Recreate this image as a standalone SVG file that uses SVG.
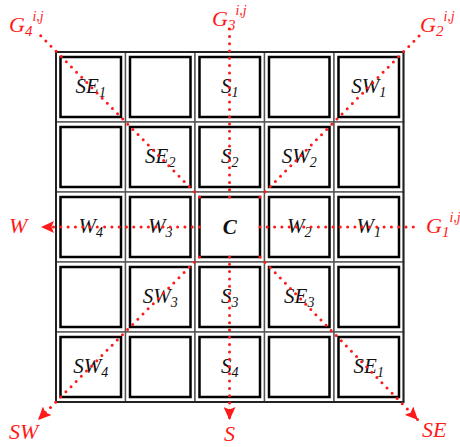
<svg xmlns="http://www.w3.org/2000/svg" width="460" height="447" viewBox="0 0 460 447">
<defs>
<style>
.cell{fill:#fff;stroke:#555;stroke-width:1.4}
.inner{fill:none;stroke:#000;stroke-width:2.5}
.lbl{font-family:"Liberation Serif","Times New Roman",serif;font-style:italic;font-size:21px;fill:#111;text-anchor:middle}
.sub{font-size:14px}
.red{font-family:"Liberation Serif","Times New Roman",serif;font-style:italic;font-size:22px;fill:#ff1a1a}
.rsub{font-size:15px}
.rsup{font-size:14px}
.dot{fill:none;stroke:#ff1a1a;stroke-width:3;stroke-linecap:round;stroke-dasharray:0 7.3}
</style>
<marker id="ah" markerUnits="userSpaceOnUse" markerWidth="14" markerHeight="12" refX="13" refY="6" orient="auto">
<path d="M0,0 L13,6 L0,12 L2.5,6 Z" fill="#ff1a1a"/>
</marker>
</defs>
<rect x="0" y="0" width="460" height="447" fill="#fff"/>
<g id="grid">
<g id="cell-0-0"><rect class="cell" x="56" y="52" width="69.5" height="70"/><rect class="inner" x="60.5" y="57" width="60.5" height="60"/><text class="lbl" x="90.75" y="93">SE<tspan class="sub" dy="4">1</tspan></text></g>
<g id="cell-1-0"><rect class="cell" x="125.5" y="52" width="69.5" height="70"/><rect class="inner" x="130" y="57" width="60.5" height="60"/></g>
<g id="cell-2-0"><rect class="cell" x="195" y="52" width="69.5" height="70"/><rect class="inner" x="199.5" y="57" width="60.5" height="60"/><text class="lbl" x="229.75" y="93">S<tspan class="sub" dy="4">1</tspan></text></g>
<g id="cell-3-0"><rect class="cell" x="264.5" y="52" width="69.5" height="70"/><rect class="inner" x="269" y="57" width="60.5" height="60"/></g>
<g id="cell-4-0"><rect class="cell" x="334" y="52" width="69.5" height="70"/><rect class="inner" x="338.5" y="57" width="60.5" height="60"/><text class="lbl" x="368.75" y="93">SW<tspan class="sub" dy="4">1</tspan></text></g>

<g id="cell-0-1"><rect class="cell" x="56" y="122" width="69.5" height="70"/><rect class="inner" x="60.5" y="127" width="60.5" height="60"/></g>
<g id="cell-1-1"><rect class="cell" x="125.5" y="122" width="69.5" height="70"/><rect class="inner" x="130" y="127" width="60.5" height="60"/><text class="lbl" x="160.25" y="163">SE<tspan class="sub" dy="4">2</tspan></text></g>
<g id="cell-2-1"><rect class="cell" x="195" y="122" width="69.5" height="70"/><rect class="inner" x="199.5" y="127" width="60.5" height="60"/><text class="lbl" x="229.75" y="163">S<tspan class="sub" dy="4">2</tspan></text></g>
<g id="cell-3-1"><rect class="cell" x="264.5" y="122" width="69.5" height="70"/><rect class="inner" x="269" y="127" width="60.5" height="60"/><text class="lbl" x="299.25" y="163">SW<tspan class="sub" dy="4">2</tspan></text></g>
<g id="cell-4-1"><rect class="cell" x="334" y="122" width="69.5" height="70"/><rect class="inner" x="338.5" y="127" width="60.5" height="60"/></g>

<g id="cell-0-2"><rect class="cell" x="56" y="192" width="69.5" height="70"/><rect class="inner" x="60.5" y="197" width="60.5" height="60"/><text class="lbl" x="90.75" y="233">W<tspan class="sub" dy="4">4</tspan></text></g>
<g id="cell-1-2"><rect class="cell" x="125.5" y="192" width="69.5" height="70"/><rect class="inner" x="130" y="197" width="60.5" height="60"/><text class="lbl" x="160.25" y="233">W<tspan class="sub" dy="4">3</tspan></text></g>
<g id="cell-2-2"><rect class="cell" x="195" y="192" width="69.5" height="70"/><rect class="inner" x="199.5" y="197" width="60.5" height="60"/><text class="lbl" x="229.75" y="234" font-weight="bold" font-size="22">C</text></g>
<g id="cell-3-2"><rect class="cell" x="264.5" y="192" width="69.5" height="70"/><rect class="inner" x="269" y="197" width="60.5" height="60"/><text class="lbl" x="299.25" y="233">W<tspan class="sub" dy="4">2</tspan></text></g>
<g id="cell-4-2"><rect class="cell" x="334" y="192" width="69.5" height="70"/><rect class="inner" x="338.5" y="197" width="60.5" height="60"/><text class="lbl" x="368.75" y="233">W<tspan class="sub" dy="4">1</tspan></text></g>

<g id="cell-0-3"><rect class="cell" x="56" y="262" width="69.5" height="70"/><rect class="inner" x="60.5" y="267" width="60.5" height="60"/></g>
<g id="cell-1-3"><rect class="cell" x="125.5" y="262" width="69.5" height="70"/><rect class="inner" x="130" y="267" width="60.5" height="60"/><text class="lbl" x="160.25" y="303">SW<tspan class="sub" dy="4">3</tspan></text></g>
<g id="cell-2-3"><rect class="cell" x="195" y="262" width="69.5" height="70"/><rect class="inner" x="199.5" y="267" width="60.5" height="60"/><text class="lbl" x="229.75" y="303">S<tspan class="sub" dy="4">3</tspan></text></g>
<g id="cell-3-3"><rect class="cell" x="264.5" y="262" width="69.5" height="70"/><rect class="inner" x="269" y="267" width="60.5" height="60"/><text class="lbl" x="299.25" y="303">SE<tspan class="sub" dy="4">3</tspan></text></g>
<g id="cell-4-3"><rect class="cell" x="334" y="262" width="69.5" height="70"/><rect class="inner" x="338.5" y="267" width="60.5" height="60"/></g>

<g id="cell-0-4"><rect class="cell" x="56" y="332" width="69.5" height="70"/><rect class="inner" x="60.5" y="337" width="60.5" height="60"/><text class="lbl" x="90.75" y="373">SW<tspan class="sub" dy="4">4</tspan></text></g>
<g id="cell-1-4"><rect class="cell" x="125.5" y="332" width="69.5" height="70"/><rect class="inner" x="130" y="337" width="60.5" height="60"/></g>
<g id="cell-2-4"><rect class="cell" x="195" y="332" width="69.5" height="70"/><rect class="inner" x="199.5" y="337" width="60.5" height="60"/><text class="lbl" x="229.75" y="373">S<tspan class="sub" dy="4">4</tspan></text></g>
<g id="cell-3-4"><rect class="cell" x="264.5" y="332" width="69.5" height="70"/><rect class="inner" x="269" y="337" width="60.5" height="60"/></g>
<g id="cell-4-4"><rect class="cell" x="334" y="332" width="69.5" height="70"/><rect class="inner" x="338.5" y="337" width="60.5" height="60"/><text class="lbl" x="368.75" y="373">SE<tspan class="sub" dy="4">1</tspan></text></g>
<rect x="56" y="52" width="347.5" height="350" fill="none" stroke="#222" stroke-width="2"/>
</g>
<g id="connectors">
<path class="dot" d="M199.5,197 L39,34"/>
<path class="dot" d="M260,197 L421,34"/>
<path class="dot" d="M229.5,197 L229.5,27"/>
<path class="dot" d="M260,227 L416,227"/>
<path class="dot" d="M199.5,227 L41,227" marker-end="url(#ah)"/>
<path class="dot" d="M199.5,257 L38,420" marker-end="url(#ah)"/>
<path class="dot" d="M229.5,257 L229.5,420" marker-end="url(#ah)"/>
<path class="dot" d="M260,257 L418,420" marker-end="url(#ah)"/>
</g>
<g id="label-G4"><text class="red" x="9" y="32">G<tspan class="rsub" dy="4">4</tspan><tspan class="rsup" dy="-15">i,j</tspan></text></g>
<g id="label-G3"><text class="red" x="212" y="26">G<tspan class="rsub" dy="4">3</tspan><tspan class="rsup" dy="-15">i,j</tspan></text></g>
<g id="label-G2"><text class="red" x="420" y="32">G<tspan class="rsub" dy="4">2</tspan><tspan class="rsup" dy="-15">i,j</tspan></text></g>
<g id="label-G1"><text class="red" x="426" y="233">G<tspan class="rsub" dy="4">1</tspan><tspan class="rsup" dy="-15">i,j</tspan></text></g>
<g id="label-W"><text class="red" x="9" y="233">W</text></g>
<g id="label-SW"><text class="red" x="9" y="439">SW</text></g>
<g id="label-S"><text class="red" x="229.5" y="441" text-anchor="middle">S</text></g>
<g id="label-SE"><text class="red" x="422" y="437">SE</text></g>
</svg>
